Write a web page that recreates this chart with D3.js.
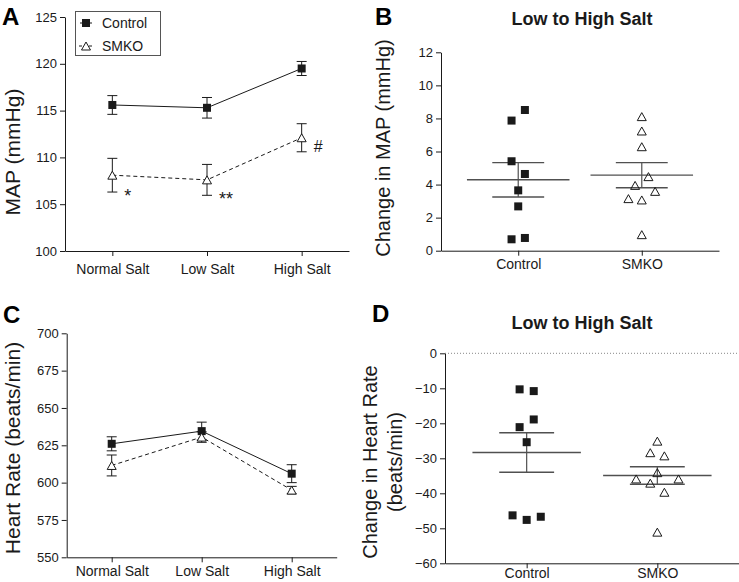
<!DOCTYPE html>
<html><head><meta charset="utf-8">
<script src="https://cdn.jsdelivr.net/npm/d3@7"></script>
<style>
body{margin:0;background:#fff;}
svg{display:block;font-family:"Liberation Sans",Arial,sans-serif;}
</style></head><body>
<svg id="chart" width="739" height="582"></svg>
<script>
// ---------- data ----------
const salts = ["Normal Salt", "Low Salt", "High Salt"];
const groups = ["Control", "SMKO"];

// Panel A: MAP (mmHg)
const mapControl = [115.6, 115.3, 119.5];
const mapControlSem = [1.0, 1.1, 0.75];
const mapSmko = [108.1, 107.6, 112.1];
const mapSmkoSem = [1.8, 1.65, 1.5];
const mapTicks = [100, 105, 110, 115, 120, 125];
const mapMarks = ["*", "**", "#"];

// Panel B: change in MAP, low to high salt
const dMapControl = [8.51, 7.87, 5.41, 4.64, 3.65, 2.68, 0.77, 0.69];
const dMapControlCol = [1, -1, -1, 1, 0, 0, 1, -1];
const dMapSmko = [8.11, 7.24, 6.29, 4.48, 3.95, 3.59, 3.15, 3.07, 0.97];
const dMapSmkoCol = [0, 0, 0, 1, -1, 2, -2, 0, 0];
const dMapMean = [4.29, 4.57];
const dMapSem = [1.04, 0.76];
const dMapTicks = [0, 2, 4, 6, 8, 10, 12];

// Panel C: heart rate (beats/min)
const hrControl = [626, 634.5, 606];
const hrControlSem = [4.7, 6, 6];
const hrSmko = [611.5, 630.5, 595];
const hrSmkoSem = [7, 3.5, 2.5];
const hrTicks = [550, 575, 600, 625, 650, 675, 700];

// Panel D: change in heart rate, low to high salt
const dHrControl = [-10.3, -10.8, -18.9, -21.1, -25.4, -46.3, -47.6, -46.7];
const dHrControlCol = [-1, 1, 1, -1, 0, -2, 0, 2];
const dHrSmko = [-25.1, -28.4, -29.3, -34.1, -35.9, -35.9, -37.1, -39.7, -51.1];
const dHrSmkoCol = [0, -1, 1, 0, -3, 3, -1, 1, 0];
const dHrMean = [-28.35, -34.9];
const dHrSem = [5.65, 2.5];
const dHrTicks = [-60, -50, -40, -30, -20, -10, 0];

// ---------- drawing ----------
const svg = d3.select("#chart");
const INK = "#1a1a1a";
const triPath = (w, h) => `M0,${-h/2}L${w/2},${h/2}L${-w/2},${h/2}Z`;

function styleAxis(g, fs) {
  g.selectAll("path.domain").attr("stroke", INK).attr("stroke-width", 1);
  g.selectAll(".tick line").attr("stroke", INK);
  g.selectAll(".tick text").attr("fill", INK).style("font-size", fs + "px")
    .style("font-family", '"Liberation Sans",Arial,sans-serif');
}

function drawAxes(x, y, ticks, xPad, fmt) {
  const gx = svg.append("g").attr("transform", `translate(0,${y.range()[0]})`)
    .call(d3.axisBottom(x).tickSize(5).tickSizeOuter(0).tickPadding(xPad));
  styleAxis(gx, 14);
  const gy = svg.append("g").attr("transform", `translate(${x.range()[0]},0)`)
    .call(d3.axisLeft(y).tickValues(ticks).tickSize(5).tickSizeOuter(0).tickPadding(3)
      .tickFormat(fmt || d3.format("d")));
  styleAxis(gy, 13);
}

function letter(t, x, y) {
  svg.append("text").attr("x", x).attr("y", y).text(t)
    .style("font-size", "24px").style("font-weight", "bold").attr("fill", "#000");
}

function yTitle(lines, x0, yc, fs, gap) {
  lines.forEach((t, i) => {
    svg.append("text").attr("transform", `translate(${x0 + i * gap},${yc}) rotate(-90)`)
      .attr("text-anchor", "middle").style("font-size", fs + "px").attr("fill", INK).text(t);
  });
}

function linePanel(x, y, ctrl, ctrlSem, smko, smkoSem) {
  const g = svg.append("g");
  const series = [
    {v: ctrl, e: ctrlSem, dash: null, kind: "sq"},
    {v: smko, e: smkoSem, dash: "4,3", kind: "tri"}
  ];
  series.forEach(s => {
    const pts = salts.map((c, i) => ({c, v: s.v[i], e: s.e[i]}));
    g.append("path").datum(pts)
      .attr("d", d3.line().x(d => x(d.c)).y(d => y(d.v)))
      .attr("fill", "none").attr("stroke", INK).attr("stroke-width", 1)
      .attr("stroke-dasharray", s.dash);
    pts.forEach(d => {
      const cx = x(d.c);
      g.append("line").attr("x1", cx).attr("x2", cx).attr("y1", y(d.v - d.e)).attr("y2", y(d.v + d.e))
        .attr("stroke", INK).attr("stroke-width", 1);
      [d.v - d.e, d.v + d.e].forEach(val => {
        g.append("line").attr("x1", cx - 5).attr("x2", cx + 5).attr("y1", y(val)).attr("y2", y(val))
          .attr("stroke", INK).attr("stroke-width", 1);
      });
      if (s.kind === "sq") {
        g.append("rect").attr("x", cx - 4).attr("y", y(d.v) - 4).attr("width", 8).attr("height", 8)
          .attr("fill", INK);
      } else {
        g.append("path").attr("transform", `translate(${cx},${y(d.v)})`).attr("d", triPath(9, 8))
          .attr("fill", "#fff").attr("stroke", INK).attr("stroke-width", 1);
      }
    });
  });
}

function dotPanel(x, y, ctrlVals, ctrlCol, smkoVals, smkoCol, means, sems) {
  const g = svg.append("g");
  const step = x.step();
  const slot = step * 0.054;
  groups.forEach((grp, i) => {
    const cx = x(grp);
    const m = means[i], e = sems[i];
    g.append("line").attr("x1", cx - step * 0.415).attr("x2", cx + step * 0.415)
      .attr("y1", y(m)).attr("y2", y(m)).attr("stroke", "#505050").attr("stroke-width", 1.4);
    [m - e, m + e].forEach(val => {
      g.append("line").attr("x1", cx - step * 0.21).attr("x2", cx + step * 0.21)
        .attr("y1", y(val)).attr("y2", y(val)).attr("stroke", "#505050").attr("stroke-width", 1.4);
    });
    g.append("line").attr("x1", cx).attr("x2", cx).attr("y1", y(m - e)).attr("y2", y(m + e))
      .attr("stroke", "#505050").attr("stroke-width", 1.2);
  });
  ctrlVals.forEach((v, i) => {
    const cx = x("Control") + ctrlCol[i] * slot;
    g.append("rect").attr("x", cx - 4).attr("y", y(v) - 4).attr("width", 8).attr("height", 8)
      .attr("fill", INK);
  });
  smkoVals.forEach((v, i) => {
    const cx = x("SMKO") + smkoCol[i] * slot;
    g.append("path").attr("transform", `translate(${cx},${y(v)})`).attr("d", triPath(9, 8))
      .attr("fill", "none").attr("stroke", INK).attr("stroke-width", 1);
  });
}

// ----- Panel A -----
const xA = d3.scalePoint().domain(salts).range([65, 349]).padding(0.5);
const yA = d3.scaleLinear().domain([100, 125]).range([251, 17]);
drawAxes(xA, yA, mapTicks, 8);
linePanel(xA, yA, mapControl, mapControlSem, mapSmko, mapSmkoSem);
mapMarks.forEach((t, i) => {
  const yy = i < 2 ? yA(mapSmko[i] - mapSmkoSem[i]) + 10 : yA(mapSmko[i]) + 14;
  svg.append("text").attr("x", xA(salts[i]) + 12).attr("y", yy).text(t)
    .style("font-size", i < 2 ? "18px" : "16px").attr("fill", INK);
});
// legend
const lg = svg.append("g");
lg.append("rect").attr("x", 75.5).attr("y", 11.5).attr("width", 85).attr("height", 44)
  .attr("fill", "#fff").attr("stroke", "#555").attr("stroke-width", 1);
lg.append("line").attr("x1", 80).attr("x2", 92).attr("y1", 23).attr("y2", 23).attr("stroke", INK);
lg.append("rect").attr("x", 82).attr("y", 19).attr("width", 8).attr("height", 8).attr("fill", INK);
lg.append("line").attr("x1", 79).attr("x2", 93).attr("y1", 46).attr("y2", 46).attr("stroke", INK)
  .attr("stroke-dasharray", "3,2");
lg.append("path").attr("transform", "translate(86,46)").attr("d", triPath(9, 8))
  .attr("fill", "#fff").attr("stroke", INK);
lg.append("text").attr("x", 102).attr("y", 28).text(groups[0]).style("font-size", "14px").attr("fill", INK);
lg.append("text").attr("x", 102).attr("y", 51).text(groups[1]).style("font-size", "14px").attr("fill", INK);
letter("A", 2, 25);
yTitle(["MAP (mmHg)"], 20, 152, 21, 0);

// ----- Panel B -----
const xB = d3.scalePoint().domain(groups).range([441, 719]).padding(0.625);
const yB = d3.scaleLinear().domain([0, 12]).range([250.7, 52.3]);
drawAxes(xB, yB, dMapTicks, 3);
dotPanel(xB, yB, dMapControl, dMapControlCol, dMapSmko, dMapSmkoCol, dMapMean, dMapSem);
letter("B", 375, 25);
svg.append("text").attr("x", 582).attr("y", 25).attr("text-anchor", "middle")
  .style("font-size", "18px").style("font-weight", "bold").attr("fill", INK).text("Low to High Salt");
yTitle(["Change in MAP (mmHg)"], 389.5, 148, 20, 0);

// ----- Panel C -----
const xC = d3.scalePoint().domain(salts).range([66.7, 336.7]).padding(0.5);
const yC = d3.scaleLinear().domain([550, 700]).range([557.3, 333.3]);
drawAxes(xC, yC, hrTicks, 4);
linePanel(xC, yC, hrControl, hrControlSem, hrSmko, hrSmkoSem);
letter("C", 3, 323);
yTitle(["Heart Rate (beats/min)"], 20, 448, 21, 0);

// ----- Panel D -----
const xD = d3.scalePoint().domain(groups).range([445, 739]).padding(0.625);
const yD = d3.scaleLinear().domain([-60, 0]).range([563.3, 353.3]);
svg.append("line").attr("x1", xD.range()[0]).attr("x2", xD.range()[1])
  .attr("y1", yD(0)).attr("y2", yD(0)).attr("stroke", "#888").attr("stroke-dasharray", "1,2");
drawAxes(xD, yD, dHrTicks, 0);
dotPanel(xD, yD, dHrControl, dHrControlCol, dHrSmko, dHrSmkoCol, dHrMean, dHrSem);
letter("D", 372, 322);
svg.append("text").attr("x", 582).attr("y", 329).attr("text-anchor", "middle")
  .style("font-size", "18px").style("font-weight", "bold").attr("fill", INK).text("Low to High Salt");
yTitle(["Change in Heart Rate", "(beats/min)"], 376.5, 462, 20, 25.5);
</script>
</body></html>
